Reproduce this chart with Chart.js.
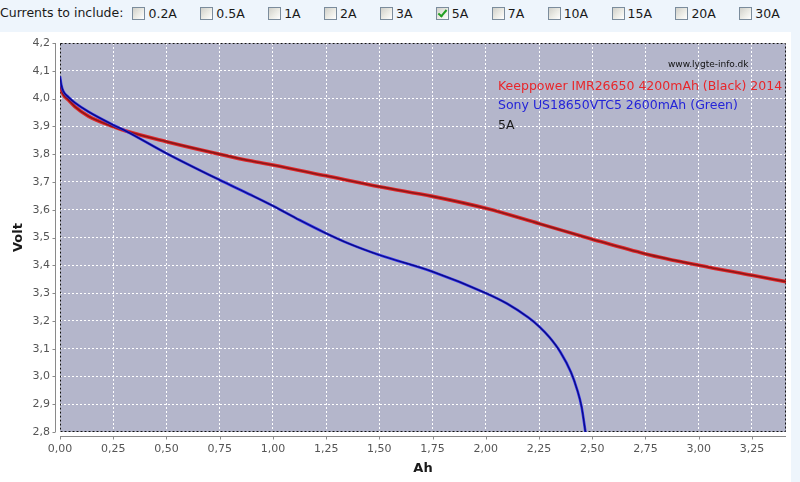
<!DOCTYPE html>
<html><head><meta charset="utf-8">
<script src="https://cdn.jsdelivr.net/npm/chart.js@4"></script>
<style>
html,body{margin:0;padding:0;background:#fff;}
#wrap{position:relative;width:800px;height:482px;overflow:hidden;background:#fff;}
#chart{position:absolute;left:0;top:0;}
#bar{position:absolute;left:0;top:0;width:800px;height:32px;background:#EEF5FC;font:12.5px "DejaVu Sans",sans-serif;color:#1a1a1a;display:flex;align-items:flex-start;}
#bar .lead{margin-top:5px;margin-right:9px;white-space:nowrap;}
#bar .item{display:flex;align-items:flex-start;margin-right:23.4px;white-space:nowrap;}
#bar .box{position:relative;width:11px;height:11px;margin-top:7px;margin-right:3px;border:1px solid #7b8c9c;background:linear-gradient(135deg,#d0d0ca 0%,#ececE6 55%,#ffffff 100%);}
#bar .box.on::after{content:"";position:absolute;left:3px;top:0px;width:3px;height:7px;border:solid #22a022;border-width:0 2px 2px 0;transform:rotate(40deg);}
#bar .lbl{margin-top:6px;}
#strip{position:absolute;left:791px;top:32px;width:9px;height:450px;background:#EEF5FC;}
</style>
</head>
<body>
<div id="wrap">
  <canvas id="chart" width="800" height="482"></canvas>
  <div id="strip"></div>
  <div id="bar"><span class="lead">Currents to include:</span></div>
</div>
<script>
// ---- data ----
const currents = ['0.2A','0.5A','1A','2A','3A','5A','7A','10A','15A','20A','30A'];
const selectedCurrent = '5A';
const headerLabel = 'Currents to include:';
const siteLabel = 'www.lygte-info.dk';
const series1Name = 'Keeppower IMR26650 4200mAh (Black) 2014';
const series2Name = 'Sony US18650VTC5 2600mAh (Green)';
const xTitle = 'Ah';
const yTitle = 'Volt';
const xMin = 0, xMax = 3.41, xStep = 0.25;
const yMin = 2.8, yMax = 4.2, yStep = 0.1;

const keepAh = [0, 0.015, 0.04, 0.07, 0.133, 0.25, 0.31, 0.5, 0.75, 0.9, 1.0, 1.25, 1.5, 1.75, 2.0, 2.25, 2.5, 2.75, 3.0, 3.25, 3.41];
const keepV  = [4.048, 4.015, 3.995, 3.971, 3.937, 3.899, 3.883, 3.845, 3.800, 3.775, 3.761, 3.722, 3.683, 3.648, 3.605, 3.550, 3.494, 3.441, 3.400, 3.364, 3.341];

const sonyAh = [0, 0.006, 0.015, 0.04, 0.07, 0.133, 0.25, 0.31, 0.5, 0.75, 0.9, 1.0, 1.125, 1.25, 1.36, 1.5, 1.75, 2.0, 2.1, 2.2, 2.25, 2.30, 2.35, 2.40, 2.43, 2.45, 2.468];
const sonyV  = [4.080, 4.050, 4.027, 4.005, 3.985, 3.953, 3.905, 3.883, 3.803, 3.707, 3.652, 3.614, 3.563, 3.515, 3.477, 3.437, 3.377, 3.300, 3.262, 3.212, 3.180, 3.140, 3.088, 3.015, 2.950, 2.890, 2.800];

// ---- header ----
const bar = document.getElementById('bar');
bar.querySelector('.lead').textContent = headerLabel;
currents.forEach(c => {
  const it = document.createElement('span'); it.className = 'item';
  const b = document.createElement('span'); b.className = 'box' + (c === selectedCurrent ? ' on' : '');
  const l = document.createElement('span'); l.className = 'lbl'; l.textContent = c;
  it.appendChild(b); it.appendChild(l); bar.appendChild(it);
});

const pts = (xs, ys) => xs.map((x, i) => ({x, y: ys[i]}));
const FONT = '"DejaVu Sans", Verdana, sans-serif';

const decor = {
  id: 'decor',
  beforeDraw(chart) {
    const {ctx, chartArea: a} = chart;
    ctx.save();
    ctx.fillStyle = '#B4B6CB';
    ctx.fillRect(a.left, a.top, a.right - a.left, a.bottom - a.top);
    ctx.restore();
  },
  beforeDatasetsDraw(chart) {
    const {ctx, chartArea: a} = chart;
    ctx.save();
    ctx.strokeStyle = '#111';
    ctx.lineWidth = 1;
    ctx.setLineDash([2, 2]);
    ctx.strokeRect(a.left + 0.5, a.top + 0.5, a.right - a.left - 1, a.bottom - a.top - 1);
    ctx.restore();
  },
  afterDraw(chart) {
    const {ctx, chartArea: a, scales} = chart;
    ctx.save();
    ctx.strokeStyle = '#8a8a8a';
    ctx.lineWidth = 1;
    const ax = a.left - 4.5;
    ctx.beginPath(); ctx.moveTo(ax, a.top); ctx.lineTo(ax, a.bottom); ctx.stroke();
    scales.y.ticks.forEach(t => {
      const y = Math.round(scales.y.getPixelForValue(t.value)) + 0.5;
      ctx.beginPath(); ctx.moveTo(ax - 3, y); ctx.lineTo(ax, y); ctx.stroke();
    });
    const ay = a.bottom + 4.5;
    ctx.beginPath(); ctx.moveTo(a.left, ay); ctx.lineTo(a.right, ay); ctx.stroke();
    scales.x.ticks.forEach(t => {
      const x = Math.round(scales.x.getPixelForValue(t.value)) + 0.5;
      ctx.beginPath(); ctx.moveTo(x, ay); ctx.lineTo(x, ay + 3); ctx.stroke();
    });
    ctx.textBaseline = 'middle';
    ctx.textAlign = 'left';
    ctx.font = '9px ' + FONT;
    ctx.fillStyle = '#111';
    ctx.fillText(siteLabel, 668, 65);
    ctx.font = '12.5px ' + FONT;
    ctx.fillStyle = '#e8262a';
    ctx.fillText(series1Name, 498, 87);
    ctx.fillStyle = '#2424d8';
    ctx.fillText(series2Name, 498, 106);
    ctx.fillStyle = '#1a1a1a';
    ctx.fillText(selectedCurrent, 498, 126);
    ctx.restore();
  }
};

new Chart(document.getElementById('chart'), {
  type: 'line',
  data: {
    datasets: [
      {data: pts(keepAh, keepV), borderColor: '#e0282c', borderWidth: 3.6, order: 4},
      {data: pts(keepAh, keepV), borderColor: '#8c1818', borderWidth: 1.6, order: 3},
      {data: pts(sonyAh, sonyV), borderColor: '#3030f0', borderWidth: 2.6, order: 2},
      {data: pts(sonyAh, sonyV), borderColor: '#0c0c80', borderWidth: 1.3, order: 1}
    ].map(d => Object.assign(d, {pointRadius: 0, fill: false, cubicInterpolationMode: 'monotone'}))
  },
  options: {
    responsive: false,
    animation: false,
    events: [],
    layout: {padding: {top: 43, right: 14, left: 0, bottom: 0}},
    plugins: {legend: {display: false}, tooltip: {enabled: false}},
    scales: {
      x: {
        type: 'linear', min: xMin, max: xMax,
        afterFit: s => { s.height = 50; },
        ticks: {stepSize: xStep, includeBounds: false, padding: 11, color: '#555',
          font: {family: FONT, size: 11},
          callback: v => v.toFixed(2).replace('.', ',')},
        grid: {color: '#ffffff', lineWidth: 1, drawTicks: false},
        border: {display: false, dash: [2, 2]},
        title: {display: true, text: xTitle, color: '#1a1a1a', font: {family: FONT, size: 13, weight: 'bold'}, padding: {top: 0, bottom: 6}}
      },
      y: {
        type: 'linear', min: yMin, max: yMax,
        afterFit: s => { s.width = 60; },
        ticks: {stepSize: yStep, padding: 10, color: '#555',
          font: {family: FONT, size: 11},
          callback: v => v.toFixed(1).replace('.', ',')},
        grid: {color: '#ffffff', lineWidth: 1, drawTicks: false},
        border: {display: false, dash: [2, 2]},
        title: {display: true, text: yTitle, color: '#1a1a1a', font: {family: FONT, size: 13, weight: 'bold'}, padding: {top: 11, bottom: 0}}
      }
    }
  },
  plugins: [decor]
});
</script>
</body></html>
